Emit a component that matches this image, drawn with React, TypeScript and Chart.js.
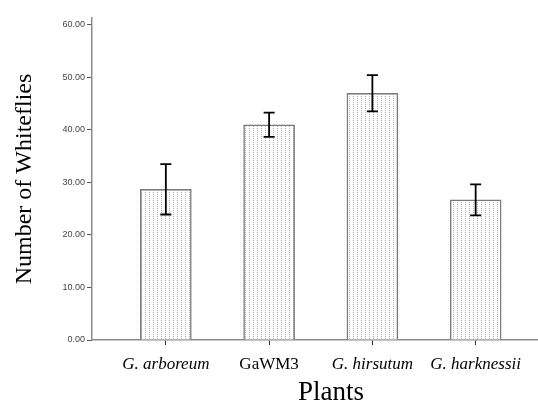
import React, { useEffect, useRef } from "react";
import { Chart, registerables } from "chart.js";

Chart.register(...registerables);

const categories = ["G. arboreum", "GaWM3", "G. hirsutum", "G. harknessii"];
const italicFlags = [true, false, true, true];
const means = [28.7, 41.0, 47.0, 26.7];
const errors = [4.8, 2.3, 3.45, 2.95];
const yTicks = [0, 10, 20, 30, 40, 50, 60];
const xTitle = "Plants";
const yTitle = "Number of Whiteflies";

function makePattern(): CanvasPattern | string {
  const c = document.createElement("canvas");
  c.width = 4;
  c.height = 2;
  const g = c.getContext("2d");
  if (!g) return "#eee";
  g.fillStyle = "#ffffff";
  g.fillRect(0, 0, 4, 2);
  g.fillStyle = "#b0b0b0";
  g.fillRect(1, 0, 1, 1);
  const p = g.createPattern(c, "repeat");
  return p || "#eee";
}

export default function App() {
  const ref = useRef<HTMLCanvasElement>(null);
  useEffect(() => {
    document.body.style.margin = "0";
    const canvas = ref.current;
    if (!canvas) return;

    const errorBars = {
      id: "errorBars",
      afterDatasetsDraw(chart: any) {
        const ctx = chart.ctx;
        const xs = chart.scales.x;
        const ys = chart.scales.y;
        ctx.save();
        ctx.strokeStyle = "#000";
        ctx.lineWidth = 1.8;
        means.forEach((m, i) => {
          const x = xs.getPixelForValue(i);
          const t = ys.getPixelForValue(m + errors[i]);
          const b = ys.getPixelForValue(m - errors[i]);
          ctx.beginPath();
          ctx.moveTo(x, t);
          ctx.lineTo(x, b);
          ctx.moveTo(x - 5.5, t);
          ctx.lineTo(x + 5.5, t);
          ctx.moveTo(x - 5.5, b);
          ctx.lineTo(x + 5.5, b);
          ctx.stroke();
        });
        ctx.restore();
      },
      afterDraw(chart: any) {
        const ctx = chart.ctx;
        const xs = chart.scales.x;
        ctx.save();
        ctx.fillStyle = "#000";
        ctx.font = "27px 'Liberation Serif', 'Times New Roman', serif";
        ctx.textAlign = "center";
        ctx.textBaseline = "alphabetic";
        ctx.fillText(xTitle, xs.getPixelForValue(1.6), 400);
        ctx.restore();
      },
    };

    const chart = new Chart(canvas, {
      type: "bar",
      data: {
        datasets: [
          {
            data: means.map((v, i) => ({ x: i, y: v })),
            backgroundColor: makePattern() as any,
            borderColor: "#7a7a7a",
            borderWidth: 1.5,
            barThickness: 51,
          },
        ],
      },
      options: {
        responsive: false,
        animation: false,
        devicePixelRatio: 1,
        layout: { padding: { left: 0, right: 1, top: 18, bottom: 0 } },
        plugins: { legend: { display: false }, tooltip: { enabled: false } },
        scales: {
          x: {
            type: "linear",
            offset: false,
            min: -0.715,
            max: 3.594,
            afterFit(scale: any) {
              scale.height = 65;
            },
            afterBuildTicks(scale: any) {
              scale.ticks = categories.map((_, i) => ({ value: i }));
            },
            grid: {
              display: true,
              offset: false,
              drawOnChartArea: false,
              drawTicks: true,
              tickLength: 5,
              color: "#333",
            },
            border: { display: true, color: "#8c8c8c", width: 1.5 },
            ticks: {
              autoSkip: false,
              maxRotation: 0,
              padding: 9,
              color: "#000",
              font: (c: any) => ({
                family: "'Liberation Serif', 'Times New Roman', serif",
                size: 17,
                style: italicFlags[c.index] ? "italic" : "normal",
              }),
              callback: (v: any) => categories[Math.round(Number(v))] ?? "",
            },
          },
          y: {
            min: 0,
            max: 61.33,
            afterFit(scale: any) {
              scale.width = 92;
            },
            afterBuildTicks(scale: any) {
              scale.ticks = yTicks.map((v) => ({ value: v }));
            },
            grid: {
              display: true,
              drawOnChartArea: false,
              drawTicks: true,
              tickLength: 5,
              color: "#555",
            },
            border: { display: true, color: "#8c8c8c", width: 1.5 },
            ticks: {
              padding: 2,
              color: "#444",
              font: { family: "'Liberation Sans', Arial, sans-serif", size: 9 },
              callback: (v: any) => Number(v).toFixed(2),
            },
            title: {
              display: true,
              text: yTitle,
              color: "#000",
              padding: { top: 10, bottom: 0 },
              font: {
                family: "'Liberation Serif', 'Times New Roman', serif",
                size: 24,
                lineHeight: 1.2,
              },
            },
          },
        },
      },
      plugins: [errorBars],
    });
    return () => chart.destroy();
  }, []);
  return (
    <div style={{ width: 538, height: 405 }}>
      <canvas ref={ref} width={538} height={405} style={{ display: "block" }} />
    </div>
  );
}
